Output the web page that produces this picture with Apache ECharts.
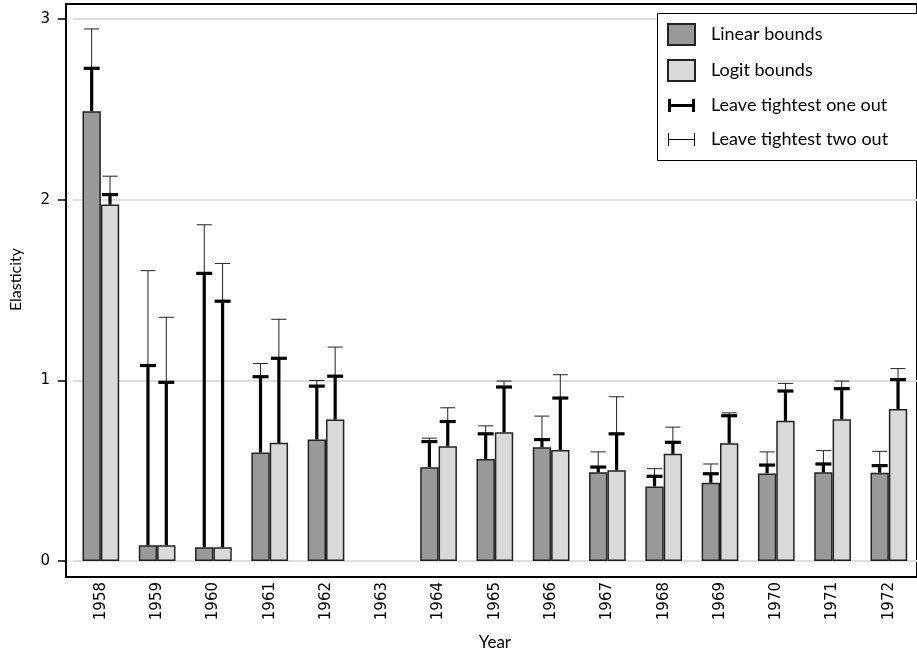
<!DOCTYPE html>
<html>
<head>
<meta charset="utf-8">
<title>Elasticity bounds by year</title>
<script src="https://cdn.jsdelivr.net/npm/echarts@6.0.0/dist/echarts.min.js"></script>
<style>
    html, body { margin: 0; padding: 0; background: #fff; }
    #chart { width: 917px; height: 656px; }
</style>
</head>
<body>
<div id="chart"></div>
<script>
// Values (1963 has no estimate)
var years = ['1958', '1959', '1960', '1961', '1962', '1963', '1964', '1965', '1966', '1967', '1968', '1969', '1970', '1971', '1972'];
var linearBounds = [2.49, 0.087, 0.076, 0.601, 0.673, null, 0.519, 0.565, 0.63, 0.491, 0.413, 0.433, 0.485, 0.491, 0.489];
var logitBounds = [1.973, 0.087, 0.076, 0.654, 0.783, null, 0.635, 0.713, 0.615, 0.502, 0.593, 0.652, 0.776, 0.785, 0.841];
var linearOneOut = [2.727, 1.082, 1.592, 1.02, 0.968, null, 0.661, 0.704, 0.672, 0.52, 0.469, 0.483, 0.531, 0.537, 0.528];
var logitOneOut = [2.028, 0.989, 1.438, 1.122, 1.023, null, 0.772, 0.963, 0.902, 0.704, 0.657, 0.804, 0.941, 0.954, 1.004];
var linearTwoOut = [2.945, 1.607, 1.861, 1.093, 0.999, null, 0.68, 0.748, 0.802, 0.604, 0.511, 0.537, 0.604, 0.611, 0.607];
var logitTwoOut = [2.13, 1.349, 1.647, 1.338, 1.184, null, 0.848, 0.996, 1.031, 0.909, 0.741, 0.82, 0.983, 0.996, 1.065];
var yTicks = { min: 0, max: 3, interval: 1 };

var BAR_SHARE = 0.326;

/**
 * Build [category, side, from, to] rows for an error bar series.
 * @param {Array} from
 * @param {Array} to
 * @param {number} side 0 = linear bar, 1 = logit bar
 * @returns {Array}
 */
function buildErrorData(from, to, side) {
    var out = [];
    for (var i = 0; i < from.length; i++) {
        if (from[i] == null || to[i] == null) continue;
        out.push([i, side, from[i], to[i]]);
    }
    return out;
}

/**
 * One-sided error bar drawn from the top of a bar.
 * @param {number} lineWidth
 * @param {number} capWidth
 * @param {string} color
 * @returns {function}
 */
function errorBarRenderer(lineWidth, capWidth, color) {
    return function (params, api) {
        var band = api.size([1, 0])[0];
        var dx = (api.value(1) === 0 ? -1 : 1) * band * BAR_SHARE / 2;
        var lo = api.coord([api.value(0), api.value(2)]);
        var hi = api.coord([api.value(0), api.value(3)]);
        var x = lo[0] + dx;
        var style = { stroke: color, lineWidth: lineWidth, fill: null };
        return {
            type: 'group',
            children: [
                { type: 'line', shape: { x1: x, y1: lo[1], x2: x, y2: hi[1] }, style: style },
                { type: 'line', shape: { x1: x - capWidth / 2, y1: hi[1], x2: x + capWidth / 2, y2: hi[1] }, style: style }
            ]
        };
    };
}

var thickIcon = 'path://M0,0L0.01,0L0.01,0.01Z M26.99,20.99L27,20.99L27,21Z M0,4H3V17H0Z M24,4H27V17H24Z M0,9H27V12H0Z';
var thinIcon = 'path://M0,0L0.01,0L0.01,0.01Z M26.99,20.99L27,20.99L27,21Z M0,4H1V17H0Z M26,4H27V17H26Z M0,10H27V11H0Z';

var chart = echarts.init(document.getElementById('chart'), null, { renderer: 'canvas' });

chart.setOption({
    animation: false,
    backgroundColor: '#fff',
    // legend frame runs past the right edge of the picture
    graphic: [{
        type: 'rect',
        left: 657,
        top: 13,
        z: 3,
        shape: { width: 300, height: 147 },
        style: { fill: '#fff', stroke: '#000', lineWidth: 1 }
    }],
    legend: {
        orient: 'vertical',
        left: 657,
        top: 13,
        z: 5,
        padding: [10, 10, 11, 10],
        itemWidth: 27,
        itemHeight: 21,
        itemGap: 13,
        selectedMode: false,
        textStyle: { fontFamily: 'Lato', fontSize: 18, color: '#000', padding: [0, 0, 0, 11] },
        data: [
            { name: 'Linear bounds', icon: 'rect' },
            { name: 'Logit bounds', icon: 'rect' },
            { name: 'Leave tightest one out', icon: thickIcon },
            { name: 'Leave tightest two out', icon: thinIcon }
        ]
    },
    grid: [
        // data area
        { left: 71.7, right: -4.7, top: 19, bottom: 94 },
        // outer frame
        { left: 66, right: -20, top: 4, bottom: 79, show: true, borderColor: '#000', borderWidth: 2, backgroundColor: 'transparent' }
    ],
    xAxis: {
        type: 'category',
        gridIndex: 0,
        data: years,
        offset: 15,
        name: 'Year',
        nameLocation: 'middle',
        nameGap: 58,
        nameTextStyle: { fontFamily: 'Lato', fontSize: 17, color: '#000' },
        axisLine: { show: false },
        axisTick: {
            length: 9,
            interval: function (index) { return index !== 0; },
            lineStyle: { color: '#000', width: 1.5 }
        },
        axisLabel: { rotate: 90, margin: 6, fontFamily: 'DejaVu Sans', fontSize: 15, color: '#000', interval: 0 },
        splitLine: { show: false }
    },
    yAxis: {
        type: 'value',
        gridIndex: 0,
        min: yTicks.min,
        max: yTicks.max,
        interval: yTicks.interval,
        offset: 5.7,
        name: 'Elasticity',
        nameLocation: 'middle',
        nameGap: 43,
        nameTextStyle: { fontFamily: 'Lato', fontSize: 16, color: '#000', padding: [0, 0, 0, 21] },
        axisLine: { show: false },
        axisTick: { show: true, length: 9, lineStyle: { color: '#000', width: 1.5 } },
        axisLabel: { margin: 17, fontFamily: 'DejaVu Sans', fontSize: 15, color: '#000' },
        splitLine: { lineStyle: { color: '#dedede', width: 2 } }
    },
    series: [
        {
            type: 'bar',
            name: 'Linear bounds',
            data: linearBounds,
            barWidth: (BAR_SHARE * 100) + '%',
            barGap: '0%',
            itemStyle: { color: '#999999', borderColor: '#222', borderWidth: 1.5 }
        },
        {
            type: 'bar',
            name: 'Logit bounds',
            data: logitBounds,
            barWidth: (BAR_SHARE * 100) + '%',
            barGap: '0%',
            itemStyle: { color: '#d9d9d9', borderColor: '#222', borderWidth: 1.5 }
        },
        {
            type: 'custom',
            name: 'Leave tightest two out',
            renderItem: errorBarRenderer(1, 15, '#222'),
            itemStyle: { color: '#000' },
            encode: { x: 0, y: [2, 3] },
            data: buildErrorData(linearOneOut, linearTwoOut, 0).concat(buildErrorData(logitOneOut, logitTwoOut, 1)),
            z: 3
        },
        {
            type: 'custom',
            name: 'Leave tightest one out',
            renderItem: errorBarRenderer(3.2, 16, '#000'),
            itemStyle: { color: '#000' },
            encode: { x: 0, y: [2, 3] },
            data: buildErrorData(linearBounds, linearOneOut, 0).concat(buildErrorData(logitBounds, logitOneOut, 1)),
            z: 4
        }
    ]
});
</script>
</body>
</html>
